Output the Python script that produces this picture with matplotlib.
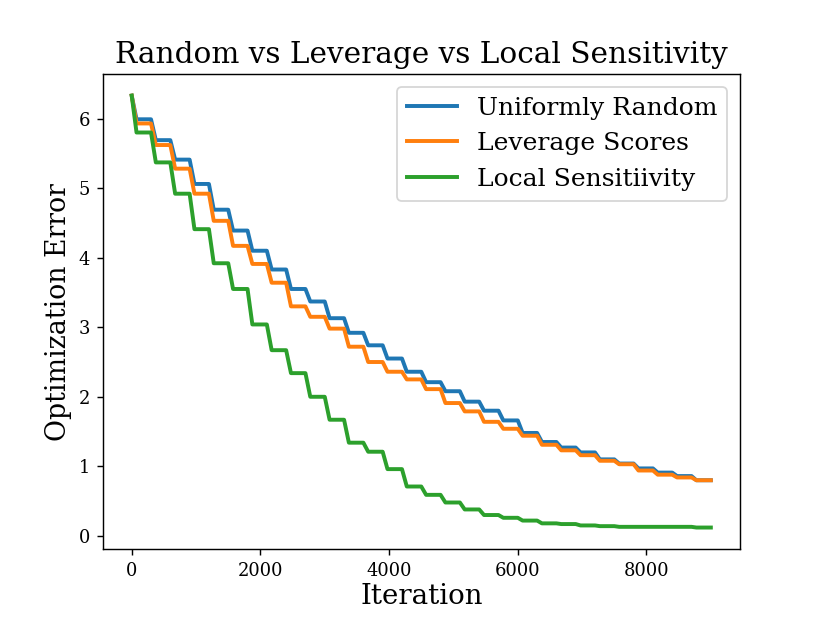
import numpy as np
import matplotlib
matplotlib.use("Agg")
import matplotlib.pyplot as plt

plt.rcParams['font.family'] = ['DejaVu Serif']

# each run starts at the same error, then one plateau per 300 iterations
start_err = 6.33
step_len = 300
n_iter = 9000

uniform_random = [5.99, 5.69, 5.41, 5.06, 4.69, 4.39, 4.10, 3.83, 3.55, 3.37,
                  3.13, 2.92, 2.74, 2.55, 2.36, 2.21, 2.08, 1.93, 1.80, 1.66,
                  1.48, 1.35, 1.27, 1.20, 1.10, 1.04, 0.97, 0.91, 0.86, 0.80]
leverage_scores = [5.93, 5.62, 5.28, 4.92, 4.53, 4.17, 3.91, 3.64, 3.30, 3.15,
                   2.98, 2.72, 2.50, 2.36, 2.25, 2.11, 1.91, 1.79, 1.64, 1.54,
                   1.44, 1.31, 1.23, 1.16, 1.08, 1.03, 0.94, 0.88, 0.84, 0.80]
local_sensitivity = [5.80, 5.37, 4.92, 4.41, 3.92, 3.55, 3.04, 2.67, 2.34, 2.00,
                     1.67, 1.34, 1.21, 0.96, 0.71, 0.59, 0.48, 0.38, 0.30, 0.26,
                     0.22, 0.18, 0.17, 0.15, 0.14, 0.13, 0.13, 0.13, 0.13, 0.12]

labels = ["Uniformly Random", "Leverage Scores", "Local Sensitiivity"]
colors = ["tab:blue", "tab:orange", "tab:green"]


def staircase(levels, drop=75):
    # drop from previous plateau to the next one at the start of each step
    xs, ys = [], []
    prev = start_err
    for k, lv in enumerate(levels):
        x0 = k * step_len
        x1 = min((k + 1) * step_len, n_iter)
        xs += [x0, x0 + drop, x1]
        ys += [prev, lv, lv]
        prev = lv
    return np.array(xs), np.array(ys)


fig, ax = plt.subplots(figsize=(822 / 128.5, 617 / 128.5), dpi=128.5)
for series, lab, col in zip([uniform_random, leverage_scores, local_sensitivity], labels, colors):
    x, y = staircase(series)
    ax.plot(x, y, color=col, lw=2.2, label=lab)

ax.set_xticks([0, 2000, 4000, 6000, 8000])
ax.set_yticks(range(0, 7))
ax.set_title("Random vs Leverage vs Local Sensitivity", fontsize=16.5)
ax.set_xlabel("Iteration", fontsize=15.5, labelpad=2)
ax.set_ylabel("Optimization Error", fontsize=15)
ax.legend(loc="upper right", fontsize=14)

fig.savefig("out.png", dpi=128.5)
